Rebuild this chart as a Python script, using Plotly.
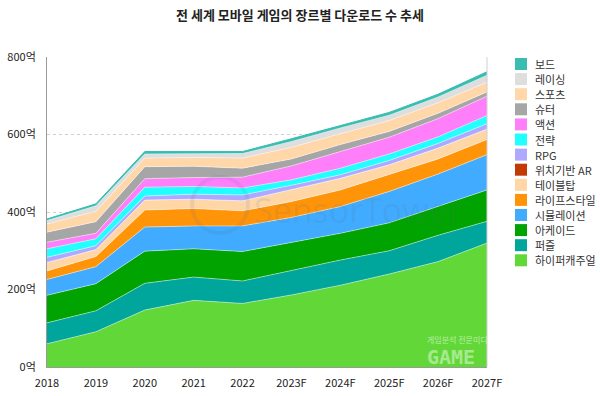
import plotly.graph_objects as go

years = ["2018", "2019", "2020", "2021", "2022", "2023F", "2024F", "2025F", "2026F", "2027F"]

# values in 억 (stack order: bottom -> top)
hypercasual = [60, 91, 147, 172, 164, 186, 211, 240, 272, 320]
puzzle = [54, 54, 69, 60, 58, 63, 65, 60, 68, 56]
arcade = [71, 70, 83, 73, 76, 72, 69, 72, 74, 81]
simulation = [41, 44, 62, 59, 66, 65, 69, 81, 84, 91]
lifestyle = [22, 26, 44, 45, 39, 41, 43, 43, 39, 39]
tabletop = [22, 18, 26, 24, 26, 30, 30, 26, 28, 27]
location_ar = [0, 0, 0, 0, 0, 0, 0, 0, 0, 0]
rpg = [13, 10, 10, 13, 15, 12, 9, 11, 12, 14]
strategy = [22, 18, 23, 20, 18, 14, 17, 17, 17, 21]
action = [17, 14, 22, 23, 28, 36, 43, 43, 47, 50]
shooter = [26, 30, 31, 29, 23, 18, 18, 15, 14, 11]
sports = [21, 27, 22, 23, 26, 30, 28, 28, 27, 25]
racing = [9, 14, 11, 10, 12, 15, 15, 14, 15, 18]
board = [4, 5, 6, 5, 5, 7, 7, 7, 7, 9]

series_names = ["하이퍼캐주얼", "퍼즐", "아케이드", "시뮬레이션", "라이프스타일", "테이블탑",
                "위치기반 AR", "RPG", "전략", "액션", "슈터", "스포츠", "레이싱", "보드"]
series_values = [hypercasual, puzzle, arcade, simulation, lifestyle, tabletop,
                 location_ar, rpg, strategy, action, shooter, sports, racing, board]
series_colors = ["#62d838", "#00a69c", "#00a300", "#40abff", "#ff9408", "#ffd6a6",
                 "#c43a05", "#aea8ff", "#22ffff", "#ff7ffb", "#a6a6a6", "#ffd7a8",
                 "#dedede", "#38bdb0"]

y_tickvals = [0, 200, 400, 600, 800]
y_ticktext = ["0억", "200억", "400억", "600억", "800억"]

FONT = "Noto Sans CJK KR, Noto Sans, sans-serif"
W, H = 600, 396
L, R, T, B = 47, 113, 57, 29
PW, PH = W - L - R, H - T - B

fig = go.Figure()
for name, vals, col in zip(series_names, series_values, series_colors):
    line_col = col if name == "보드" else "rgba(255,255,255,0.55)"
    fig.add_trace(go.Scatter(
        x=years, y=vals, name=name, stackgroup="one", mode="lines",
        line=dict(width=0.8 if name != "보드" else 1, color=line_col),
        fillcolor=col, showlegend=False,
    ))

shapes = []
annotations = []

# manual legend (top: 보드 ... bottom: 하이퍼캐주얼)
leg_names = series_names[::-1]
leg_colors = series_colors[::-1]
for i, (nm, col) in enumerate(zip(leg_names, leg_colors)):
    cy = 64 + 15.1 * i
    x0 = (515 - L) / PW
    x1 = (527 - L) / PW
    y0 = (H - B - (cy + 6)) / PH
    y1 = (H - B - (cy - 6)) / PH
    shapes.append(dict(type="rect", xref="paper", yref="paper", x0=x0, x1=x1, y0=y0, y1=y1,
                       fillcolor=col, line=dict(width=0)))
    annotations.append(dict(xref="paper", yref="paper", x=(533 - L) / PW,
                            y=(H - B - cy) / PH, xanchor="left", yanchor="middle",
                            text=nm, showarrow=False,
                            font=dict(family=FONT, size=11, color="#333333")))

# right border line of the plot
shapes.append(dict(type="line", xref="paper", yref="paper", x0=1, x1=1, y0=0, y1=1,
                   line=dict(color="#d0d0d0", width=1)))

# faint watermarks
shapes.append(dict(type="circle", xref="paper", yref="paper",
                   x0=(192 - L) / PW, x1=(248 - L) / PW,
                   y0=(H - B - 233) / PH, y1=(H - B - 177) / PH,
                   line=dict(color="rgba(90,110,140,0.12)", width=4)))
annotations.append(dict(xref="paper", yref="paper", x=(252 - L) / PW, y=(H - B - 210) / PH,
                        xanchor="left", yanchor="middle", text="SensorTower", showarrow=False,
                        font=dict(family="Open Sans, sans-serif", size=34,
                                  color="rgba(90,110,140,0.12)")))
annotations.append(dict(xref="paper", yref="paper", x=(425 - L) / PW, y=(H - B - 339) / PH,
                        xanchor="left", yanchor="middle", text="게임분석 전문미디어 게임메카",
                        showarrow=False,
                        font=dict(family=FONT, size=8, color="rgba(255,255,255,0.55)")))
annotations.append(dict(xref="paper", yref="paper", x=(425 - L) / PW, y=(H - B - 357) / PH,
                        xanchor="left", yanchor="middle", text="<b>GAME</b>",
                        showarrow=False,
                        font=dict(family="DejaVu Sans Mono, monospace", size=20,
                                  color="rgba(255,255,255,0.45)")))

fig.update_layout(
    width=W, height=H,
    margin=dict(l=L, r=R, t=T, b=B, autoexpand=False),
    paper_bgcolor="white", plot_bgcolor="white",
    showlegend=False,
    title=dict(text="<b>전 세계 모바일 게임의 장르별 다운로드 수 추세</b>",
               x=0.5, xref="container", xanchor="center",
               y=1 - 15 / H, yref="container", yanchor="middle",
               font=dict(family=FONT, size=13, color="#222222")),
    xaxis=dict(type="category", range=[0, 9], showgrid=False, zeroline=False,
               showline=True, linecolor="#9a9a9a", linewidth=1, ticks="",
               ticklabelstandoff=6, automargin=False,
               tickfont=dict(family=FONT, size=11, color="#222222")),
    yaxis=dict(range=[0, 800], tickvals=y_tickvals, ticktext=y_ticktext,
               showgrid=True, gridcolor="#cfcfcf", griddash="dot", gridwidth=1,
               zeroline=False, showline=True, linecolor="#9a9a9a", linewidth=1,
               ticks="", ticklabelstandoff=8, automargin=False,
               tickfont=dict(family=FONT, size=11, color="#222222")),
    shapes=shapes,
    annotations=annotations,
)

fig.write_html("out.html", config={"displayModeBar": False},
               post_script="document.body.style.margin='0';document.body.style.overflow='hidden';")
